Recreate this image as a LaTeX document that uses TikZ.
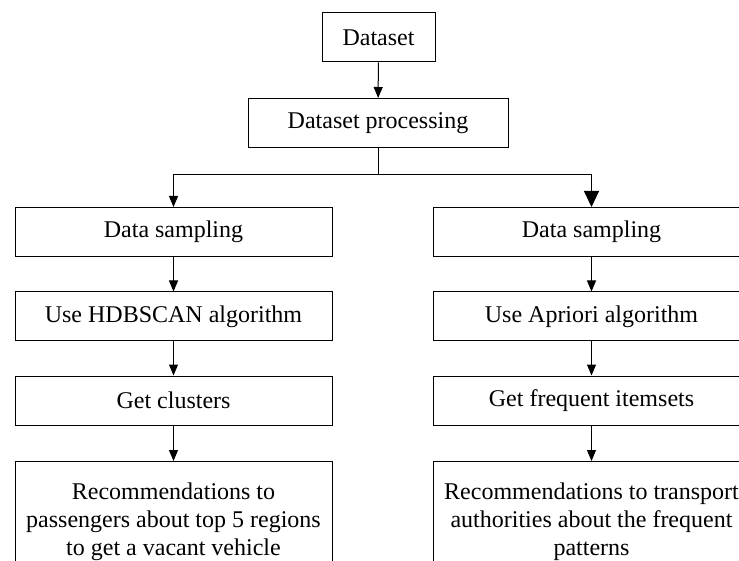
\documentclass[tikz,border=0pt]{standalone}
\usepackage{fontspec}
\setmainfont{Liberation Serif}
\usetikzlibrary{arrows.meta}
\begin{document}
\begin{tikzpicture}[x=0.5pt,y=-0.5pt,
  box/.style={draw,line width=0.5pt,inner sep=0pt,minimum height=24.5pt,
    font=\fontsize{12}{14}\selectfont,align=center},
  col/.style={box,minimum width=158.5pt},
  arr/.style={line width=0.5pt,-{Triangle[length=5.5pt,width=4.5pt]}}]
\clip (0,0) rectangle (739,561);
\fill[white] (0,0) rectangle (739,561);

\node[box,minimum width=56.5pt] (data) at (378.5,37.5) {Dataset};
\node[box,minimum width=130pt] (proc) at (378,123) {Dataset processing};
\coordinate (split) at (378,175);

\node[col] (sampL) at (173.5,232) {Data sampling};
\node[col] (algoL) at (173.5,316.5) {Use HDBSCAN algorithm};
\node[col] (resL) at (173.5,400.5) {Get clusters};
\node[col,anchor=north,minimum height=60pt] (recL) at (173.5,461)
  {Recommendations to\\passengers about top 5 regions\\to get a vacant vehicle};

\node[col] (sampR) at (591.5,232) {Data sampling};
\node[col] (algoR) at (591.5,316.5) {Use Apriori algorithm};
\node[col] (resR) at (591.5,400.5) {Get frequent itemsets};
\node[col,anchor=north,minimum height=60pt] (recR) at (591.5,461)
  {Recommendations to transport\\authorities about the frequent\\patterns};

\draw[arr] (data) -- (proc);
\draw[line width=0.5pt] (proc) -- (split);
\draw[arr] (split) -| (sampL);
\draw[arr,-{Triangle[length=8pt,width=7.5pt]}] (split) -| (sampR);

\draw[arr] (sampL) -- (algoL);
\draw[arr] (algoL) -- (resL);
\draw[arr] (resL) -- (recL);
\draw[arr] (sampR) -- (algoR);
\draw[arr] (algoR) -- (resR);
\draw[arr] (resR) -- (recR);
\end{tikzpicture}
\end{document}
